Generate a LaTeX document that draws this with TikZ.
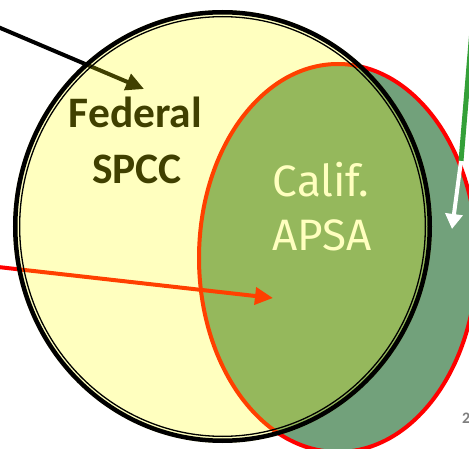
\documentclass[tikz,border=0pt]{standalone}
\usepackage{fontspec}
\setmainfont{Carlito}
\newfontfamily\handfont{Fira Sans}
\usetikzlibrary{arrows.meta}

\definecolor{veilyellow}{RGB}{255,255,0}
\definecolor{stategreen}{RGB}{114,161,123}
\definecolor{pointergreen}{RGB}{52,160,56}
\definecolor{pagegray}{RGB}{127,127,127}

\tikzset{
  label/.style={inner sep=0pt, anchor=base},
  fedtext/.style={label, text=black, font=\bfseries\fontsize{43.5}{43.5}\selectfont},
  statetext/.style={label, text=white, font=\handfont\fontsize{44}{44}\selectfont},
  pointer/.style={line width=4pt, -{Triangle[length=18pt,width=17pt]}},
}

\begin{document}
\begin{tikzpicture}[x=1pt,y=-1pt]
\useasboundingbox (0,0) rectangle (469,449);

% named points
\coordinate (fedC) at (222.5,226.5);
\coordinate (calC) at (338,258);
\coordinate (blackStart) at (-2,27);
\coordinate (blackTip) at (144,89);
\coordinate (redStart) at (-2,267);
\coordinate (redTip) at (273,298);
\coordinate (greenStart) at (472,30);
\coordinate (greenEnd) at (461,161);
\coordinate (whiteTip) at (452,229);

% California oval
\path[fill=stategreen, draw=red, line width=4pt]
  (calC) ellipse [x radius=139pt, y radius=194pt];

% labels and pointers lying under the federal disc
\node[statetext] (calif) at (321,197) {Calif.};
\node[statetext] (apsa) at (322,251) {APSA};
\draw[pointer, black] (blackStart) -- (blackTip);
\draw[pointer, red] (redStart) -- (redTip);
\node[fedtext] (federal) at (135.5,128) {Federal};
\node[fedtext] (spcc) at (137,184) {SPCC};

% federal disc: translucent yellow with a thick-thin black rim
\fill[veilyellow, fill opacity=0.25]
  (fedC) ellipse [x radius=209.5pt, y radius=216.5pt];
\draw[black, line width=4.5pt]
  (fedC) ellipse [x radius=207.25pt, y radius=214.25pt];
\draw[black, line width=1.3pt]
  (fedC) ellipse [x radius=202.85pt, y radius=209.85pt];

% pointers on the right
\draw[pointergreen, line width=5pt] (greenStart) -- (greenEnd);
\draw[white, line width=4pt, -{Triangle[length=15pt,width=17pt]}] (greenEnd) -- (whiteTip);

% page number
\node[anchor=base west, inner sep=0pt, text=pagegray, font=\bfseries\fontsize{16}{16}\selectfont]
  (pagenum) at (462,423) {2};
\end{tikzpicture}
\end{document}
